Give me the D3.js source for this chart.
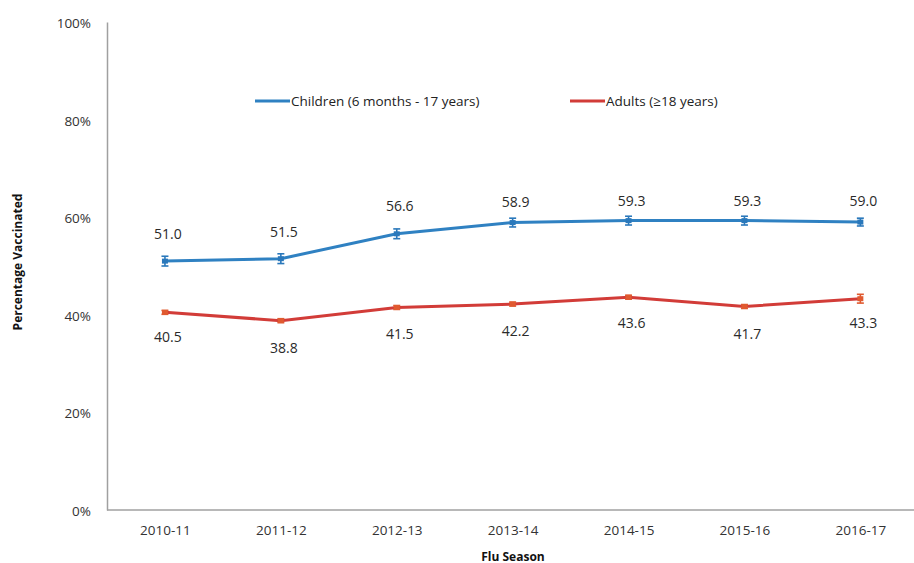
<!DOCTYPE html>
<html>
<head>
<meta charset="utf-8">
<script src="https://cdn.jsdelivr.net/npm/d3@7"></script>
<style>
  body { margin: 0; background: #fff; }
  text { font-family: "Open Sans", "DejaVu Sans", sans-serif; fill: #333; }
  .tick text { font-size: 13.5px; fill: #333; }
  .val { font-size: 14px; fill: #2a2a2a; }
  .axis-title { font-size: 12px; font-weight: bold; fill: #111; }
  .legend text { font-size: 13.5px; fill: #222; }
</style>
</head>
<body>
<svg width="914" height="563"></svg>
<script>
  const seasons = ['2010-11', '2011-12', '2012-13', '2013-14', '2014-15', '2015-16', '2016-17'];
  const children = [51.0, 51.5, 56.6, 58.9, 59.3, 59.3, 59.0];
  const childrenErr = [1.0, 1.0, 1.0, 0.9, 0.9, 0.9, 0.8];
  const adults = [40.5, 38.8, 41.5, 42.2, 43.6, 41.7, 43.3];
  const adultsErr = [0.4, 0.4, 0.4, 0.4, 0.4, 0.4, 0.9];
  const yTicks = [0, 20, 40, 60, 80, 100];

  // label placement (pixels from the point)
  const childrenLabelDy = [-27, -27, -28, -20, -20, -20, -21];
  const adultsLabelDy = [25, 27, 27, 27, 26, 28, 24];

  const svg = d3.select('svg');
  const margin = { top: 22, right: 0, bottom: 53, left: 107 };
  const width = +svg.attr('width');
  const height = +svg.attr('height');
  const innerHeight = height - margin.top - margin.bottom;
  const step = 115.9;

  const g = svg.append('g')
    .attr('transform', `translate(${margin.left},${margin.top})`);

  const xScale = d3.scalePoint()
    .domain(seasons)
    .range([step / 2, step * (seasons.length - 0.5)]);

  const yScale = d3.scaleLinear()
    .domain([0, 100])
    .range([innerHeight, 0]);

  // axes
  const yAxisG = g.append('g')
    .call(d3.axisLeft(yScale).tickValues(yTicks).tickSize(0).tickPadding(16).tickFormat(d => d + '%'));
  yAxisG.select('.domain').attr('stroke', '#a0a0a0').attr('stroke-width', 1.5);
  yAxisG.selectAll('.tick text').attr('dy', '0.4em');

  const xAxisG = g.append('g')
    .attr('transform', `translate(0,${innerHeight})`)
    .call(d3.axisBottom(xScale).tickSize(0).tickPadding(15));
  xAxisG.select('.domain').remove();
  xAxisG.append('line')
    .attr('x1', 0).attr('x2', width - margin.left)
    .attr('stroke', '#a0a0a0').attr('stroke-width', 1.5);

  g.append('text')
    .attr('class', 'axis-title')
    .attr('x', 513 - margin.left)
    .attr('y', innerHeight + 51)
    .attr('text-anchor', 'middle')
    .text('Flu Season');

  g.append('text')
    .attr('class', 'axis-title')
    .attr('transform', 'rotate(-90)')
    .attr('x', -(262 - margin.top))
    .attr('y', -85)
    .attr('text-anchor', 'middle')
    .text('Percentage Vaccinated');

  const series = [
    { name: 'Children (6 months - 17 years)', values: children, err: childrenErr, color: '#2f81c2', marker: '#2a78bb', labelDy: childrenLabelDy },
    { name: 'Adults (\u226518 years)', values: adults, err: adultsErr, color: '#d23c38', marker: '#e05a30', labelDy: adultsLabelDy }
  ];

  const line = d3.line()
    .x((d, i) => xScale(seasons[i]))
    .y(d => yScale(d));

  series.forEach(s => {
    g.append('path')
      .datum(s.values)
      .attr('fill', 'none')
      .attr('stroke', s.color)
      .attr('stroke-width', 3)
      .attr('d', line);

    const eb = g.append('g');
    s.values.forEach((v, i) => {
      const x = xScale(seasons[i]);
      const y0 = yScale(v - s.err[i]);
      const y1 = yScale(v + s.err[i]);
      eb.append('rect')
        .attr('x', x - 3).attr('y', yScale(v) - 2.5)
        .attr('width', 6).attr('height', 5)
        .attr('fill', s.marker);
      eb.append('line')
        .attr('x1', x).attr('x2', x).attr('y1', y0).attr('y2', y1)
        .attr('stroke', s.marker).attr('stroke-width', 1.6);
      [y0, y1].forEach(yy => eb.append('line')
        .attr('x1', x - 3.5).attr('x2', x + 3.5).attr('y1', yy).attr('y2', yy)
        .attr('stroke', s.marker).attr('stroke-width', 1.6));
    });

    g.selectAll(null).data(s.values)
      .enter().append('text')
        .attr('class', 'val')
        .attr('x', (d, i) => xScale(seasons[i]) + 3)
        .attr('y', (d, i) => yScale(d) + s.labelDy[i])
        .attr('dy', '0.35em')
        .attr('text-anchor', 'middle')
        .text(d => d.toFixed(1));
  });

  // legend
  const legend = svg.append('g').attr('class', 'legend');
  const legendItems = [
    { x: 255, s: series[0] },
    { x: 570, s: series[1] }
  ];
  legendItems.forEach(item => {
    legend.append('line')
      .attr('x1', item.x).attr('x2', item.x + 35)
      .attr('y1', 101).attr('y2', 101)
      .attr('stroke', item.s.color).attr('stroke-width', 3);
    legend.append('text')
      .attr('x', item.x + 36)
      .attr('y', 101)
      .attr('dy', '0.35em')
      .text(item.s.name);
  });
</script>
</body>
</html>
